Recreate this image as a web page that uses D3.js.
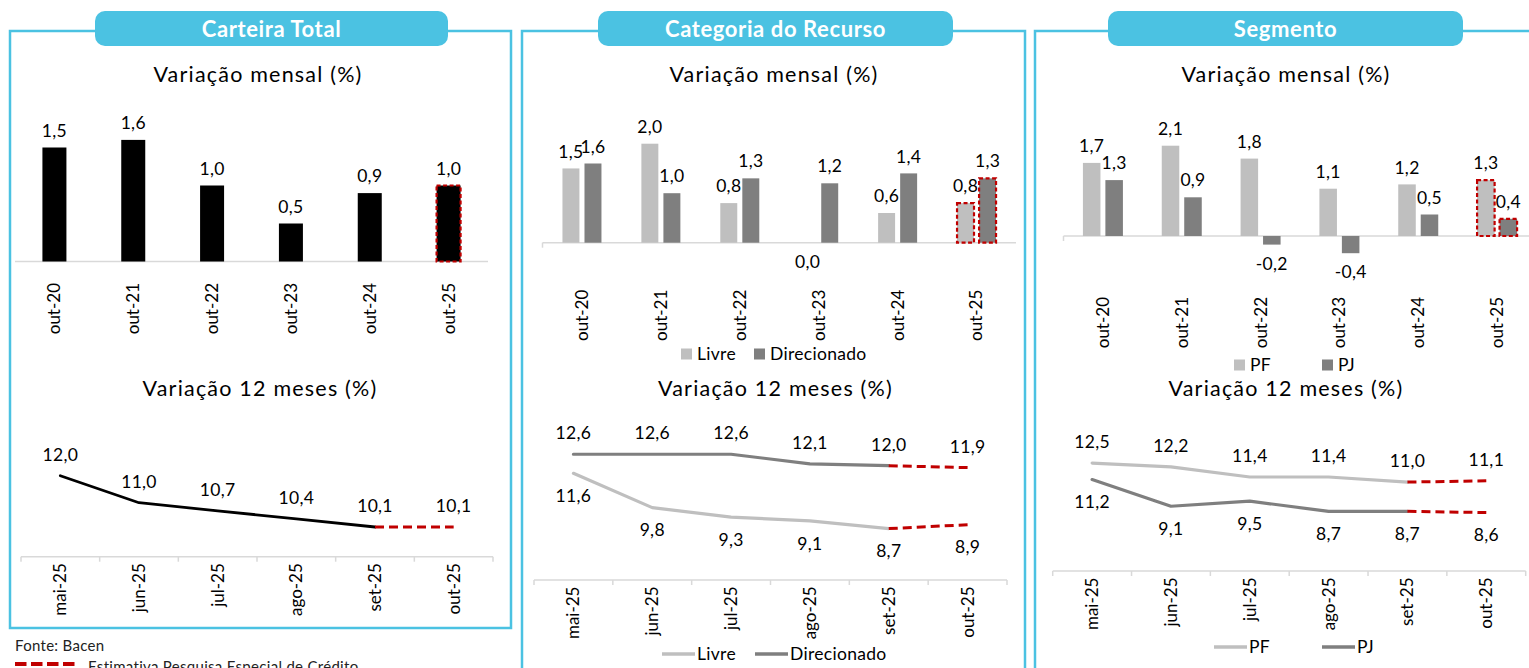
<!DOCTYPE html>
<html>
<head>
<meta charset="utf-8">
<script src="https://cdn.jsdelivr.net/npm/d3@7"></script>
<style>
  html, body { margin: 0; padding: 0; background: #ffffff; overflow: hidden; }
  svg { display: block; font-family: Lato, "Open Sans", sans-serif; }
</style>
</head>
<body>
<svg id="chart" width="1529" height="668"></svg>
<script>
// ---- data ----
const panelTitles = ["Carteira Total", "Categoria do Recurso", "Segmento"];
const monthlyTitle = "Variação mensal (%)";
const yearlyTitle = "Variação 12 meses (%)";

const monthlyCats = ["out-20", "out-21", "out-22", "out-23", "out-24", "out-25"];
const totalMonthly = [1.5, 1.6, 1.0, 0.5, 0.9, 1.0];
const livreMonthly = [1.5, 2.0, 0.8, 0.0, 0.6, 0.8];
const direcMonthly = [1.6, 1.0, 1.3, 1.2, 1.4, 1.3];
const pfMonthly = [1.7, 2.1, 1.8, 1.1, 1.2, 1.3];
const pjMonthly = [1.3, 0.9, -0.2, -0.4, 0.5, 0.4];

const yearlyCats = ["mai-25", "jun-25", "jul-25", "ago-25", "set-25", "out-25"];
const total12m = [12.0, 11.0, 10.7, 10.4, 10.1, 10.1];
const livre12m = [11.6, 9.8, 9.3, 9.1, 8.7, 8.9];
const direc12m = [12.6, 12.6, 12.6, 12.1, 12.0, 11.9];
const pf12m = [12.5, 12.2, 11.4, 11.4, 11.0, 11.1];
const pj12m = [11.2, 9.1, 9.5, 8.7, 8.7, 8.6];

const sourceNote = "Fonte: Bacen";
const estimateNote = "Estimativa Pesquisa Especial de Crédito";

// ---- styles ----
const BLUE = "#4BC2E2";
const RED = "#C00000";
const LIGHT = "#BFBFBF";
const DARK = "#7F7F7F";
const GRID = "#D9D9D9";
const TEXT = "#000000";

const svg = d3.select("#chart");
const fmt = v => d3.format(".1f")(v).replace(".", ",").replace("\u2212", "-");

// ---- panel frames and tabs ----
const frames = [
  { x: 10, w: 501, h: 597, tab: [95, 448], cx: 258, cx2: 260 },
  { x: 522, w: 503, h: 700, tab: [598, 953], cx: 774, cx2: 775.5 },
  { x: 1035, w: 540, h: 700, tab: [1108, 1463], cx: 1286, cx2: 1286 }
];

frames.forEach((f, i) => {
  svg.append("rect")
    .attr("x", f.x).attr("y", 31).attr("width", f.w).attr("height", f.h)
    .attr("fill", "none").attr("stroke", BLUE).attr("stroke-width", 2.5);
  svg.append("rect")
    .attr("x", f.tab[0]).attr("y", 11).attr("width", f.tab[1] - f.tab[0]).attr("height", 35)
    .attr("rx", 10).attr("fill", BLUE);
  svg.append("text")
    .attr("x", (f.tab[0] + f.tab[1]) / 2).attr("y", 29).attr("dy", "0.35em")
    .attr("text-anchor", "middle").attr("fill", "#ffffff")
    .attr("font-size", 22).attr("font-weight", 700).attr("letter-spacing", 0.6)
    .text(panelTitles[i]);
  svg.append("text")
    .attr("x", f.cx).attr("y", 74).attr("dy", "0.35em")
    .attr("text-anchor", "middle").attr("fill", TEXT)
    .attr("font-size", 21.5).attr("letter-spacing", 1.2)
    .text(monthlyTitle);
  svg.append("text")
    .attr("x", f.cx2).attr("y", 388).attr("dy", "0.35em")
    .attr("text-anchor", "middle").attr("fill", TEXT)
    .attr("font-size", 21.5).attr("letter-spacing", 1.2)
    .text(yearlyTitle);
});

// ---- bar charts ----
function barChart(cfg) {
  const g = svg.append("g");
  const x0 = d3.scaleBand().domain(cfg.cats).range(cfg.xRange).paddingInner(0).paddingOuter(0);
  const keys = cfg.series.map(s => s.key);
  const half = cfg.groupWidth / 2;
  const x1 = d3.scaleBand().domain(keys).range([-half, half]).paddingInner(cfg.innerPad).paddingOuter(0);
  const y = d3.scaleLinear().domain(cfg.yDomain).range(cfg.yRange);
  const base = y(0);

  // baseline
  g.append("line")
    .attr("x1", cfg.xRange[0]).attr("x2", cfg.axisEnd)
    .attr("y1", base).attr("y2", base)
    .attr("stroke", GRID).attr("stroke-width", 1.5);
  if (cfg.leftTick) {
    g.append("line")
      .attr("x1", cfg.xRange[0]).attr("x2", cfg.xRange[0])
      .attr("y1", base).attr("y2", base + 5)
      .attr("stroke", GRID).attr("stroke-width", 1.5);
  }

  cfg.series.forEach(s => {
    const sg = g.append("g");
    const cx = c => x0(c) + x0.bandwidth() / 2;
    const rows = cfg.cats.map((c, i) => ({ c, i, v: s.values[i] }));
    sg.selectAll("rect.bar").data(rows).join("rect")
      .attr("class", "bar")
      .attr("x", d => cx(d.c) + x1(s.key))
      .attr("width", x1.bandwidth())
      .attr("y", d => Math.min(y(d.v), base))
      .attr("height", d => Math.abs(y(d.v) - base))
      .attr("fill", s.color);
    // estimate outline on the last period
    const last = rows[rows.length - 1];
    sg.append("rect")
      .attr("x", cx(last.c) + x1(s.key))
      .attr("width", x1.bandwidth())
      .attr("y", Math.min(y(last.v), base))
      .attr("height", Math.abs(y(last.v) - base))
      .attr("fill", "none").attr("stroke", RED).attr("stroke-width", 2.2)
      .attr("stroke-dasharray", "4,2.5");
    sg.selectAll("text.val").data(rows).join("text")
      .attr("class", "val")
      .attr("x", d => cx(d.c) + x1(s.key) + x1.bandwidth() / 2)
      .attr("y", d => d.v > 0 ? y(d.v) - 17 : Math.max(y(d.v), base) + 19)
      .attr("dy", "0.35em")
      .attr("text-anchor", "middle").attr("font-size", 17.5).attr("letter-spacing", 0.3)
      .attr("fill", TEXT)
      .text(d => fmt(d.v));
  });

  // category labels
  const ax = g.append("g")
    .attr("transform", `translate(0,${base + cfg.catOffset})`)
    .call(d3.axisBottom(x0).tickSize(0).tickPadding(0));
  ax.select(".domain").remove();
  ax.selectAll("text")
    .attr("x", 0).attr("y", 0).attr("dy", "0.35em")
    .attr("text-anchor", "end").attr("transform", "rotate(-90)")
    .attr("font-size", 17).attr("font-family", "Lato, sans-serif").attr("fill", TEXT);
  return g;
}

barChart({
  cats: monthlyCats,
  series: [{ key: "Total", values: totalMonthly, color: "#000000" }],
  xRange: [15, 488], axisEnd: 488,
  groupWidth: 24, innerPad: 0,
  yDomain: [0, 2], yRange: [261.5, 109.5],
  catOffset: 21.5, leftTick: false
});

barChart({
  cats: monthlyCats,
  series: [
    { key: "Livre", values: livreMonthly, color: LIGHT },
    { key: "Direcionado", values: direcMonthly, color: DARK }
  ],
  xRange: [542.5, 1016], axisEnd: 1016,
  groupWidth: 39, innerPad: 0.23,
  yDomain: [0, 2], yRange: [242.7, 143.7],
  catOffset: 47, leftTick: true
});

barChart({
  cats: monthlyCats,
  series: [
    { key: "PF", values: pfMonthly, color: LIGHT },
    { key: "PJ", values: pjMonthly, color: DARK }
  ],
  xRange: [1063.5, 1536.5], axisEnd: 1540,
  groupWidth: 40, innerPad: 0.22,
  yDomain: [0, 2], yRange: [236, 150],
  catOffset: 61, leftTick: true
});

// ---- line charts ----
function lineChart(cfg) {
  const g = svg.append("g");
  const x = d3.scaleBand().domain(cfg.cats).range(cfg.xRange).padding(0);
  const y = d3.scaleLinear().domain(cfg.yDomain).range(cfg.yRange);
  const axisY = cfg.yRange[0];
  const px = c => x(c) + x.bandwidth() / 2;

  g.append("line")
    .attr("x1", cfg.xRange[0]).attr("x2", cfg.xRange[1])
    .attr("y1", axisY).attr("y2", axisY)
    .attr("stroke", GRID).attr("stroke-width", 1.5);
  const bounds = cfg.cats.map(c => x(c)).concat([x(cfg.cats[cfg.cats.length - 1]) + x.step()]);
  g.selectAll("line.tick").data(bounds).join("line")
    .attr("class", "tick")
    .attr("x1", d => d).attr("x2", d => d)
    .attr("y1", axisY).attr("y2", axisY + 5)
    .attr("stroke", GRID).attr("stroke-width", 1.5);

  cfg.series.forEach(s => {
    const pts = cfg.cats.map((c, i) => ({ c, i, v: s.values[i] }));
    const n = pts.length;
    const line = d3.line().x(d => px(d.c)).y(d => y(d.v));
    g.append("path").datum(pts.slice(0, n - 1))
      .attr("d", line).attr("fill", "none")
      .attr("stroke", s.color).attr("stroke-width", s.width)
      .attr("stroke-linejoin", "round").attr("stroke-linecap", "round");
    g.append("path").datum(pts.slice(n - 2))
      .attr("d", line).attr("fill", "none")
      .attr("stroke", RED).attr("stroke-width", 3)
      .attr("stroke-dasharray", "9,5");
    g.selectAll(null).data(pts).join("text")
      .attr("x", d => px(d.c))
      .attr("y", d => s.above ? y(d.v) - 21 : y(d.v) + 22.5)
      .attr("dy", "0.35em")
      .attr("text-anchor", "middle").attr("font-size", 17.5).attr("letter-spacing", 0.3)
      .attr("fill", TEXT)
      .text(d => fmt(d.v));
  });

  const ax = g.append("g")
    .attr("transform", `translate(0,${axisY + 6.5})`)
    .call(d3.axisBottom(x).tickSize(0).tickPadding(0));
  ax.select(".domain").remove();
  ax.selectAll("text")
    .attr("x", 0).attr("y", 0).attr("dy", "0.35em")
    .attr("text-anchor", "end").attr("transform", "rotate(-90)")
    .attr("font-size", 17).attr("font-family", "Lato, sans-serif").attr("fill", TEXT);
  return g;
}

lineChart({
  cats: yearlyCats,
  series: [{ values: total12m, color: "#000000", width: 2.8, above: true }],
  xRange: [21, 493],
  yDomain: [9, 13], yRange: [556.7, 448.7]
});

lineChart({
  cats: yearlyCats,
  series: [
    { values: direc12m, color: DARK, width: 3.2, above: true },
    { values: livre12m, color: LIGHT, width: 3.2, above: false }
  ],
  xRange: [534, 1007],
  yDomain: [6, 14], yRange: [580, 427.6]
});

lineChart({
  cats: yearlyCats,
  series: [
    { values: pf12m, color: LIGHT, width: 3.2, above: true },
    { values: pj12m, color: DARK, width: 3.2, above: false }
  ],
  xRange: [1052.7, 1525.7],
  yDomain: [4, 14], yRange: [571, 444]
});

// ---- legends ----
function boxLegend(items, cy) {
  items.forEach(it => {
    svg.append("rect").attr("x", it.x).attr("y", cy - 5.5).attr("width", 11).attr("height", 11)
      .attr("fill", it.color);
    svg.append("text").attr("x", it.x + 16).attr("y", cy).attr("dy", "0.35em")
      .attr("font-size", 17.5).attr("letter-spacing", 0.3).attr("fill", TEXT).text(it.label);
  });
}
function lineLegend(items, cy) {
  items.forEach(it => {
    svg.append("line").attr("x1", it.x).attr("x2", it.x + 33).attr("y1", cy).attr("y2", cy)
      .attr("stroke", it.color).attr("stroke-width", 3.5);
    svg.append("text").attr("x", it.x + 35).attr("y", cy).attr("dy", "0.35em")
      .attr("font-size", 17.5).attr("letter-spacing", 0.3).attr("fill", TEXT).text(it.label);
  });
}
boxLegend([{ x: 681, color: LIGHT, label: "Livre" }, { x: 754, color: DARK, label: "Direcionado" }], 354);
boxLegend([{ x: 1234, color: LIGHT, label: "PF" }, { x: 1322, color: DARK, label: "PJ" }], 365);
lineLegend([{ x: 662, color: LIGHT, label: "Livre" }, { x: 755, color: DARK, label: "Direcionado" }], 654);
lineLegend([{ x: 1214, color: LIGHT, label: "PF" }, { x: 1322, color: DARK, label: "PJ" }], 647);

// ---- notes ----
svg.append("text").attr("x", 15).attr("y", 646).attr("dy", "0.35em")
  .attr("font-size", 15).attr("letter-spacing", 0.3).attr("fill", "#222").text(sourceNote);
svg.append("line").attr("x1", 15).attr("x2", 75).attr("y1", 664).attr("y2", 664)
  .attr("stroke", RED).attr("stroke-width", 4).attr("stroke-dasharray", "11.5,4.5");
svg.append("text").attr("x", 88).attr("y", 672)
  .attr("font-size", 15).attr("letter-spacing", 0.3).attr("fill", "#222").text(estimateNote);
</script>
</body>
</html>
